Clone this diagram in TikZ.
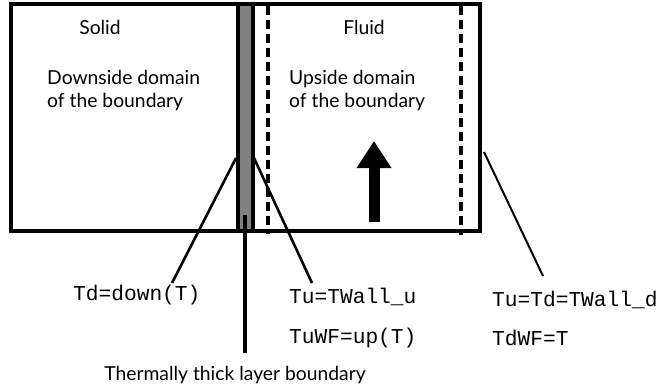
\documentclass[tikz,border=0pt]{standalone}
\usepackage{fontspec}
\setmainfont{Lato}
\setmonofont{Liberation Mono}
\usetikzlibrary{arrows.meta}

\begin{document}
\begin{tikzpicture}[
  x=1pt, y=-1pt,
  every node/.style={inner sep=0pt, font=\fontsize{19.3}{23}\selectfont},
  txt/.style      = {align=left, anchor=west},
  code/.style     = {anchor=west, font=\fontsize{21.2}{24}\selectfont\ttfamily},
  wall/.style     = {draw=black, line width=4pt},
  layer/.style    = {draw=black, fill=black!50, line width=4pt},
  interface/.style= {draw=black, line width=3.2pt, dash pattern=on 9pt off 5pt},
  leader/.style   = {draw=black, line width=2.6pt},
  flow/.style     = {-{Triangle[width=33pt, length=27pt]}, line width=11pt}
]
\useasboundingbox (0,0) rectangle (657,388);

%% DOMAIN: box, thick layer, interfaces
\draw[wall]  (11,4) rectangle (480,231);
\draw[layer] (238,4) rectangle (253,231);
\draw[interface] (268,6) -- (268,234);
\draw[interface] (461,6) -- (461,235);
\draw[flow] (374,222) -- (374,141);

%% TEXTS in the domain
\node       (solid) at (100,27) {Solid};
\node       (fluid) at (364,27) {Fluid};
\node[txt]  (down)  at (47,91)  {Downside domain\\of the boundary};
\node[txt]  (up)    at (289,91) {Upside domain\\of the boundary};

%% LABELS below
\node[code] (tdlab) at (73,295)  {Td=down(T)};
\node[code] (tulab) at (289,297) {Tu=TWall\_u};
\node[code] (tuwf)  at (289,338) {TuWF=up(T)};
\node[code] (tutd)  at (492,300) {Tu=Td=TWall\_d};
\node[code] (tdwf)  at (492,338) {TdWF=T};
\node       (thick) at (235,375) {Thermally thick layer boundary};

%% Leader lines
\coordinate (layerL) at (236,158);
\coordinate (layerR) at (254,158);
\coordinate (layerC) at (245,215);
\coordinate (wallR)  at (484,152);
\coordinate (tdend)  at (172,283);
\coordinate (tuend)  at (312,283);
\coordinate (twend)  at (543,276);
\coordinate (thend)  at (245,353);

\draw[leader] (layerL) -- (tdend);
\draw[leader] (layerR) -- (tuend);
\draw[leader, line width=3.2pt] (layerC) -- (thend);
\draw[leader, line width=2pt] (wallR) -- (twend);
\end{tikzpicture}
\end{document}
